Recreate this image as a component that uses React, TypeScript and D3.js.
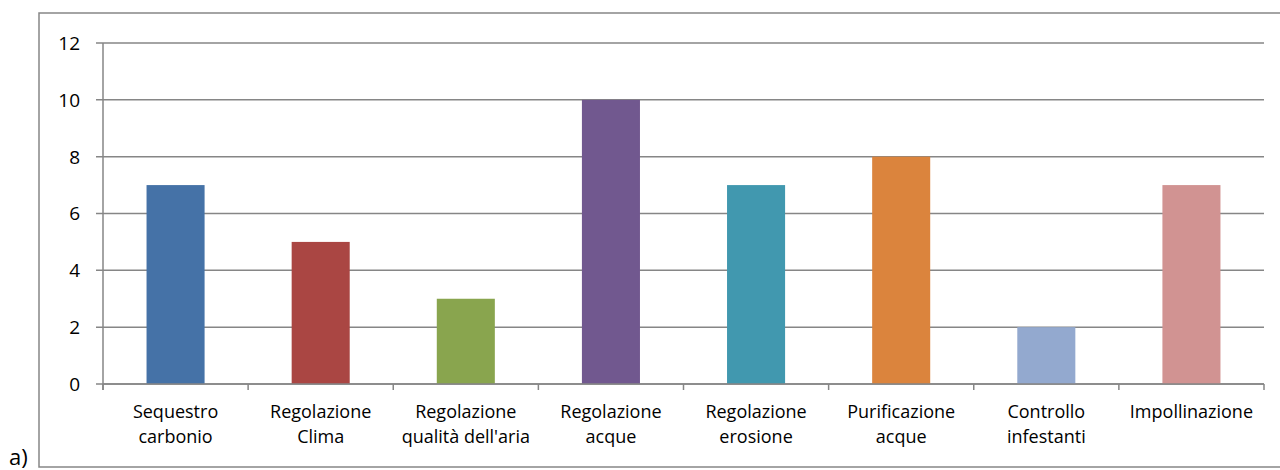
import React from "react";
import * as d3 from "d3";

const categories: string[][] = [
  ["Sequestro", "carbonio"],
  ["Regolazione", "Clima"],
  ["Regolazione", "qualità dell'aria"],
  ["Regolazione", "acque"],
  ["Regolazione", "erosione"],
  ["Purificazione", "acque"],
  ["Controllo", "infestanti"],
  ["Impollinazione"],
];
const values: number[] = [7, 5, 3, 10, 7, 8, 2, 7];
const barColors: string[] = [
  "#4572A7",
  "#AA4643",
  "#89A54E",
  "#71588F",
  "#4198AF",
  "#DB843D",
  "#93A9CF",
  "#D19392",
];
const yTicks: number[] = [0, 2, 4, 6, 8, 10, 12];

const W = 1280;
const H = 470;
const plot = { left: 103, right: 1264, top: 43, bottom: 384 };
const FONT = "'Open Sans', sans-serif";
const AXIS = "#868686";

export default function App() {
  const keys = categories.map((_, i) => String(i));
  const x = d3
    .scaleBand<string>()
    .domain(keys)
    .range([plot.left, plot.right])
    .paddingInner(0.6)
    .paddingOuter(0.3);
  const band = d3.scaleBand<string>().domain(keys).range([plot.left, plot.right]);
  const y = d3.scaleLinear().domain([0, 12]).range([plot.bottom, plot.top]);

  const boundaries = keys.map((k) => band(k) as number).concat([plot.right]);

  return (
    <svg
      width={W}
      height={H}
      style={{ position: "absolute", left: 0, top: 0, background: "#fff" }}
      fontFamily={FONT}
    >
      {/* outer chart frame */}
      <rect x={39} y={13} width={1250} height={454} fill="#fff" stroke={AXIS} strokeWidth={1.5} />

      {/* horizontal gridlines and y ticks */}
      {yTicks.map((t) => (
        <g key={t}>
          <line x1={96} x2={plot.right} y1={y(t)} y2={y(t)} stroke={AXIS} strokeWidth={1.5} />
          <text x={80} y={y(t)} dy="0.36em" textAnchor="end" fontSize={19} fill="#000">
            {t}
          </text>
        </g>
      ))}

      {/* y axis */}
      <line x1={plot.left} x2={plot.left} y1={plot.top} y2={plot.bottom + 6} stroke={AXIS} strokeWidth={1.5} />

      {/* bars */}
      {values.map((v, i) => (
        <rect
          key={i}
          x={x(keys[i])}
          width={x.bandwidth()}
          y={y(v)}
          height={y(0) - y(v)}
          fill={barColors[i]}
        />
      ))}

      {/* x axis with category boundary ticks */}
      <line x1={plot.left} x2={plot.right} y1={plot.bottom} y2={plot.bottom} stroke={AXIS} strokeWidth={1.5} />
      {boundaries.map((bx, i) => (
        <line key={i} x1={bx} x2={bx} y1={plot.bottom} y2={plot.bottom + 6} stroke={AXIS} strokeWidth={1.5} />
      ))}

      {/* category labels */}
      {categories.map((lines, i) => {
        const cx = (band(keys[i]) as number) + band.bandwidth() / 2;
        return (
          <text key={i} x={cx} y={418} textAnchor="middle" fontSize={18} fill="#000">
            {lines.map((ln, j) => (
              <tspan key={j} x={cx} dy={j === 0 ? 0 : 25}>
                {ln}
              </tspan>
            ))}
          </text>
        );
      })}

      {/* panel tag */}
      <text x={9} y={465} fontSize={22} fill="#000">
        a)
      </text>
    </svg>
  );
}
